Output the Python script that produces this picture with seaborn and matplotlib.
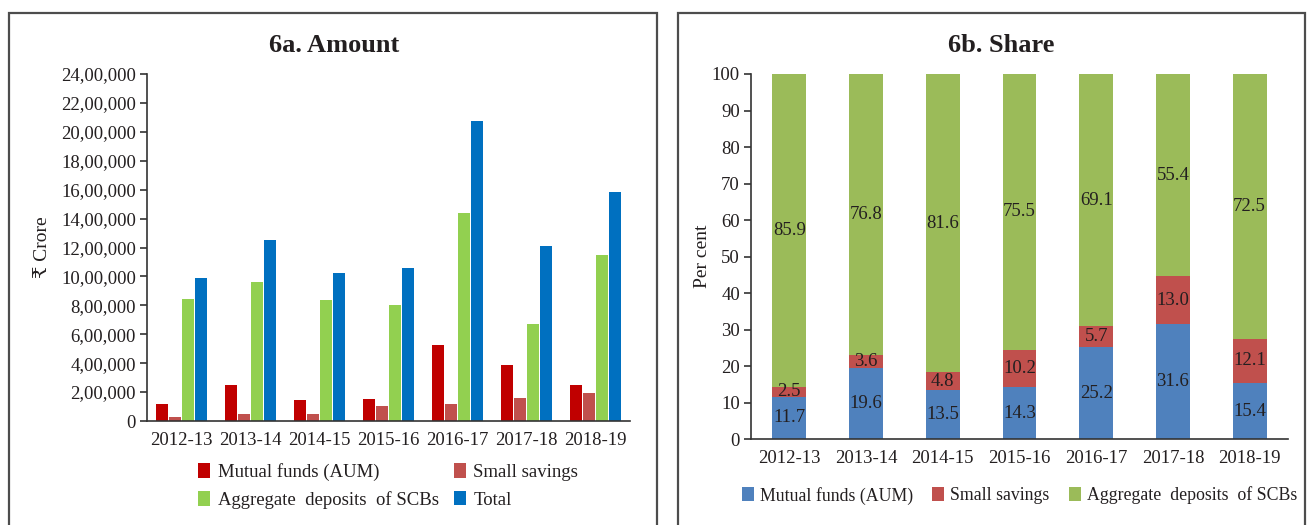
import numpy as np
import pandas as pd
import matplotlib
matplotlib.use("Agg")
import matplotlib.pyplot as plt
from matplotlib.patches import Rectangle, Patch
from matplotlib.ticker import FuncFormatter, FixedLocator
import seaborn as sns

# ---- data -------------------------------------------------------------
years = ["2012-13", "2013-14", "2014-15", "2015-16", "2016-17", "2017-18", "2018-19"]

# amounts in ₹ crore
mutual_funds = [118000, 247000, 142000, 154000, 527000, 385000, 247000]
small_savings = [26000, 45000, 50000, 107000, 117000, 157000, 191000]
agg_deposits = [846000, 961000, 834000, 799000, 1436000, 673000, 1151000]
total = [987000, 1251000, 1021000, 1058000, 2075000, 1211000, 1587000]

# shares in per cent
share_mf = [11.7, 19.6, 13.5, 14.3, 25.2, 31.6, 15.4]
share_ss = [2.5, 3.6, 4.8, 10.2, 5.7, 13.0, 12.1]
share_ad = [85.9, 76.8, 81.6, 75.5, 69.1, 55.4, 72.5]

series_a = ["Mutual funds (AUM)", "Small savings", "Aggregate  deposits  of SCBs", "Total"]
colors_a = ["#C00000", "#C0504D", "#92D050", "#0070C0"]
series_b = ["Mutual funds (AUM)", "Small savings", "Aggregate  deposits  of SCBs"]
colors_b = ["#4F81BD", "#C0504D", "#9BBB59"]

amount_ticks = list(range(0, 2400001, 200000))
share_ticks = list(range(0, 101, 10))

# ---- style ------------------------------------------------------------
sns.set_theme(style="white")
TXT = "#231F20"
plt.rcParams["font.family"] = ["Liberation Serif", "DejaVu Serif", "DejaVu Sans"]
plt.rcParams["text.color"] = TXT
plt.rcParams["axes.labelcolor"] = TXT
plt.rcParams["xtick.color"] = TXT
plt.rcParams["ytick.color"] = TXT


def indian(v, _pos=None):
    v = int(round(v))
    s = str(v)
    if len(s) <= 3:
        return s
    head, tail = s[:-3], s[-3:]
    parts = []
    while len(head) > 2:
        parts.insert(0, head[-2:])
        head = head[:-2]
    if head:
        parts.insert(0, head)
    return ",".join(parts + [tail])


W, H = 1308, 525
fig = plt.figure(figsize=(W / 100, H / 100), dpi=100)

# panel frames (open at the bottom edge)
for x0, x1 in [(9, 657), (678, 1305)]:
    fig.patches.append(Rectangle((x0 / W, -0.05), (x1 - x0) / W, (H - 13) / H + 0.05,
                                 transform=fig.transFigure, fill=False,
                                 edgecolor="#4D4D4D", linewidth=1.6))

# panel titles
fig.text(334 / W, 1 - 45 / H, "6a. Amount", ha="center", va="center",
         fontsize=19, fontweight="bold")
fig.text(1001 / W, 1 - 45 / H, "6b. Share", ha="center", va="center",
         fontsize=19, fontweight="bold")


def style_axes(ax, n):
    for s in ["top", "right"]:
        ax.spines[s].set_visible(False)
    for s in ["left", "bottom"]:
        ax.spines[s].set_color("#333333")
        ax.spines[s].set_linewidth(1.2)
    ax.set_xlim(-0.5, n - 0.5)
    ax.xaxis.set_minor_locator(FixedLocator(np.arange(-0.5, n, 1.0)))
    ax.tick_params(axis="x", which="major", length=0, pad=8, labelsize=13.5)
    ax.tick_params(axis="x", which="minor", length=6, width=1.2, color="#333333", direction="out")
    ax.tick_params(axis="y", which="major", length=5, width=1.2, color="#333333",
                   direction="out", labelsize=13.5, pad=3, left=True)
    ax.grid(False)


# ---- 6a. Amount -------------------------------------------------------
ax1 = fig.add_axes([147 / W, 104 / H, 483 / W, 347 / H])
df_a = pd.DataFrame({
    "year": np.repeat(years, 4),
    "series": series_a * len(years),
    "value": np.ravel(np.column_stack([mutual_funds, small_savings, agg_deposits, total])),
})
sns.barplot(data=df_a, x="year", y="value", hue="series", hue_order=series_a,
            palette=colors_a, width=0.74, gap=0.06, saturation=1, ax=ax1,
            edgecolor="none", legend=False)
style_axes(ax1, len(years))
ax1.set_ylim(0, 2400000)
ax1.set_yticks(amount_ticks)
ax1.yaxis.set_major_formatter(FuncFormatter(indian))
ax1.set_xlabel("")
ax1.set_ylabel("₹ Crore", fontsize=14)
ax1.yaxis.set_label_coords((51 - 147) / 483, 0.5)

handles_a = [Patch(facecolor=c, edgecolor="none") for c in colors_a]
order = [0, 2, 1, 3]
ax1.legend([handles_a[i] for i in order], [series_a[i] for i in order],
           ncol=2, loc="upper left", bbox_to_anchor=(0.09, -0.10), frameon=False,
           fontsize=13.5, handlelength=0.65, handleheight=0.85, handletextpad=0.4,
           columnspacing=0.8, labelspacing=0.5, borderaxespad=0)

# ---- 6b. Share --------------------------------------------------------
ax2 = fig.add_axes([751 / W, 85.7 / H, 537 / W, 365.3 / H])
mf = np.array(share_mf)
ss = np.array(share_ss)
ad = np.array(share_ad)
layers = [(mf + ss + ad, colors_b[2]), (mf + ss, colors_b[1]), (mf, colors_b[0])]
for heights, col in layers:
    sns.barplot(x=years, y=heights, color=col, width=0.44, saturation=1, ax=ax2,
                edgecolor="none")
style_axes(ax2, len(years))
ax2.set_ylim(0, 100)
ax2.set_yticks(share_ticks)
ax2.set_xlabel("")
ax2.set_ylabel("Per cent", fontsize=14)
ax2.yaxis.set_label_coords((711 - 751) / 537, 0.5)

for i in range(len(years)):
    bottoms = [0, mf[i], mf[i] + ss[i]]
    for b, v in zip(bottoms, [mf[i], ss[i], ad[i]]):
        ax2.text(i, b + v / 2, f"{v:.1f}", ha="center", va="center",
                 fontsize=13.5, color=TXT)

handles_b = [Patch(facecolor=c, edgecolor="none") for c in colors_b]
ax2.legend(handles_b, series_b, ncol=3, loc="upper left", bbox_to_anchor=(-0.03, -0.11),
           frameon=False, fontsize=12.8, handlelength=0.65, handleheight=0.85,
           handletextpad=0.35, columnspacing=1.1, borderaxespad=0)

fig.savefig("out.png", dpi=100)
